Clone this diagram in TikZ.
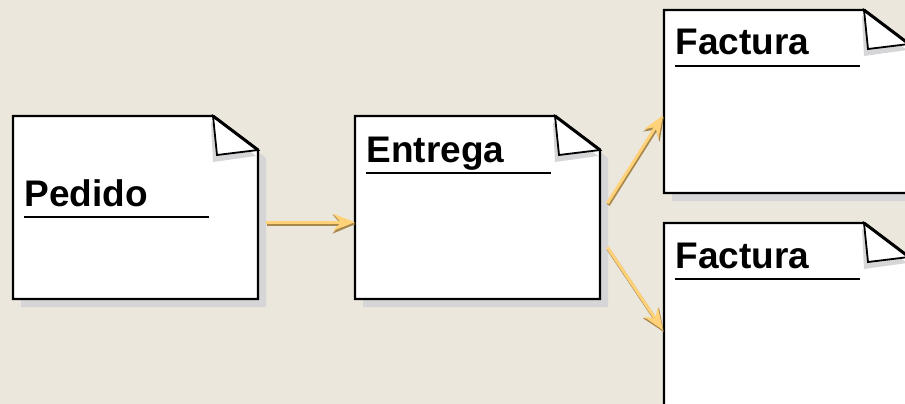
\documentclass[tikz,border=0pt]{standalone}
\usepackage{fontspec}
\setmainfont{Liberation Sans}
\usetikzlibrary{arrows.meta,calc}
\definecolor{bg}{HTML}{EBE7DD}
\definecolor{shad}{HTML}{D6D6D8}
\definecolor{gold}{HTML}{FFD27A}
\definecolor{golddk}{HTML}{A8884A}
\tikzset{
  boxline/.style={draw=black, line width=2.4pt, fill=white, line join=miter},
  shadowfill/.style={fill=shad, draw=none},
  titletext/.style={anchor=base west, inner sep=0pt, font=\fontsize{37}{40}\selectfont\bfseries},
  uline/.style={line width=2.2pt},
  flowdark/.style={draw=golddk, line width=3.4pt, -{Stealth[length=23pt,width=19pt,inset=8pt,fill=golddk]}},
  flowlight/.style={draw=gold, line width=3pt, -{Stealth[length=22pt,width=17pt,inset=8pt,fill=gold]}},
}
\newcommand{\docbox}[5]{%
  \fill[shadowfill] (#2+8,#3+8) -- (#2+8+200,#3+8) -- (#2+8+245,#3+8+34) -- (#2+8+245,#3+8+183) -- (#2+8,#3+8+183) -- cycle;
  \draw[boxline] (#2,#3) -- (#2+200,#3) -- (#2+245,#3+34) -- (#2+245,#3+183) -- (#2,#3+183) -- cycle;
  \fill[shadowfill] (#2+198,#3+6) -- (#2+243,#3+40) -- (#2+200,#3+46) -- cycle;
  \draw[boxline, line width=1.8pt] (#2+200,#3) -- (#2+245,#3+34) -- (#2+204,#3+39) -- cycle;
  \draw[line width=3pt] (#2+200,#3) -- (#2+245,#3+34);
  \node[name=#1, minimum width=245pt, minimum height=183pt, inner sep=0pt, draw=none, anchor=north west] at (#2,#3) {};
  \node[titletext] (#1t) at (#2+11.5,#3+#5) {#4};
  \draw[uline] (#2+11,#3+#5+11) -- ++(185,0);
}
\begin{document}
\begin{tikzpicture}[x=1pt,y=-1pt]
\fill[bg] (0,0) rectangle (905,404);
\useasboundingbox (0,0) rectangle (905,404);
\docbox{ped}{13}{116}{Pedido}{90}
\docbox{ent}{355}{116}{Entrega}{46}
\docbox{faca}{664}{10}{Factura}{45}
\docbox{facb}{664}{223}{Factura}{45}
\coordinate (a1s) at ($(ped.east)+(8,14.5)$);
\coordinate (a1e) at ($(ent.west)+(0,14.5)$);
\coordinate (a2s) at ($(ent.east)+(7,-4.5)$);
\coordinate (a2e) at ($(faca.west)+(-1,13.5)$);
\coordinate (a3s) at ($(ent.east)+(7,39.5)$);
\coordinate (a3e) at ($(facb.west)+(-1,15.5)$);
\foreach \s/\e in {a1s/a1e,a2s/a2e,a3s/a3e}{
  \draw[flowdark] ($(\s)+(0.8,1.8)$) -- ($(\e)+(0.8,1.8)$);
  \draw[flowlight] (\s) -- (\e);
}
\end{tikzpicture}
\end{document}
